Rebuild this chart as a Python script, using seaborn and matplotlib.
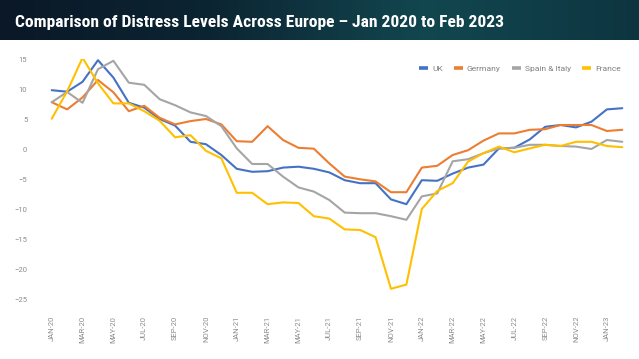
import numpy as np
import pandas as pd
import matplotlib
matplotlib.use("Agg")
import matplotlib.pyplot as plt
import seaborn as sns
from matplotlib import font_manager
from matplotlib.colors import LinearSegmentedColormap

months = ["JAN-20", "FEB-20", "MAR-20", "APR-20", "MAY-20", "JUN-20", "JUL-20", "AUG-20",
          "SEP-20", "OCT-20", "NOV-20", "DEC-20", "JAN-21", "FEB-21", "MAR-21", "APR-21",
          "MAY-21", "JUN-21", "JUL-21", "AUG-21", "SEP-21", "OCT-21", "NOV-21", "DEC-21",
          "JAN-22", "FEB-22", "MAR-22", "APR-22", "MAY-22", "JUN-22", "JUL-22", "AUG-22",
          "SEP-22", "OCT-22", "NOV-22", "DEC-22", "JAN-23", "FEB-23"]

uk = [9.8, 9.55, 11.2, 14.8, 11.9, 7.7, 6.9, 5.0, 3.9, 1.2, 0.8, -1.0, -3.3, -3.8, -3.7,
      -3.1, -2.95, -3.3, -3.9, -5.2, -5.7, -5.7, -8.4, -9.2, -5.2, -5.3, -4.1, -3.1, -2.6,
      0.1, 0.2, 1.6, 3.7, 4.0, 3.6, 4.55, 6.6, 6.8]
germany = [7.8, 6.6, 8.6, 11.5, 9.45, 6.3, 7.2, 5.2, 4.1, 4.65, 5.0, 4.1, 1.3, 1.2, 3.8,
           1.5, 0.2, 0.05, -2.4, -4.6, -5.05, -5.4, -7.2, -7.2, -3.1, -2.8, -1.0, -0.2, 1.4,
           2.6, 2.6, 3.2, 3.3, 4.0, 4.0, 4.0, 3.0, 3.2]
spain_italy = [7.8, 9.5, 7.7, 13.3, 14.7, 11.05, 10.7, 8.3, 7.3, 6.1, 5.5, 3.8, 0.1, -2.5,
               -2.5, -4.6, -6.4, -7.1, -8.5, -10.6, -10.7, -10.7, -11.2, -11.8, -7.9, -7.4,
               -2.05, -1.7, -0.7, 0.1, 0.2, 0.7, 0.7, 0.5, 0.4, 0.0, 1.5, 1.2]
france = [5.05, 9.6, 15.2, 10.95, 7.6, 7.6, 6.3, 4.7, 1.95, 2.3, -0.3, -1.55, -7.3, -7.3,
          -9.2, -8.9, -9.0, -11.2, -11.6, -13.4, -13.5, -14.7, -23.3, -22.6, -10.0, -7.0,
          -5.7, -2.1, -0.7, 0.4, -0.55, 0.1, 0.7, 0.5, 1.2, 1.2, 0.5, 0.3]

series = {"UK": uk, "Germany": germany, "Spain & Italy": spain_italy, "France": france}
colors = {"UK": "#4472C4", "Germany": "#ED7D31", "Spain & Italy": "#A5A5A5", "France": "#FFC000"}

df = pd.DataFrame(series)
df["idx"] = np.arange(len(months))
long = df.melt(id_vars="idx", var_name="country", value_name="level")

sns.set_style("white")
plt.rcParams["font.family"] = ["Roboto", "DejaVu Sans"]

# a condensed face for the banner title if one is around
have = {f.name for f in font_manager.fontManager.ttflist}
title_font = "Roboto"
for name in ["Roboto Condensed", "Barlow Semi Condensed", "Barlow Condensed",
             "Archivo Narrow", "PT Sans Narrow", "Liberation Sans Narrow"]:
    if name in have:
        title_font = name
        break

fig = plt.figure(figsize=(6.39, 3.59), dpi=100)

# title banner
bax = fig.add_axes([0, 1 - 40 / 359, 1, 40 / 359])
grad = np.linspace(0, 1, 256).reshape(1, -1)
cmap = LinearSegmentedColormap.from_list("banner", ["#0a1827", "#0c2533", "#12474f", "#0d3540"])
bax.imshow(grad, aspect="auto", cmap=cmap, extent=[0, 1, 0, 1])
bax.set_axis_off()
title = bax.text(0.024, 0.45, "Comparison of Distress Levels Across Europe \u2013 Jan 2020 to Feb 2023",
                 color="white", fontsize=14.5, fontweight="bold", va="center", ha="left",
                 family=[title_font, "DejaVu Sans"])
fig.canvas.draw()
w = title.get_window_extent().width
if w > 490:
    title.set_fontsize(14.5 * 490 / w)

ax = fig.add_axes([44 / 639, 1 - 299 / 359, 586 / 639, 240 / 359])
sns.lineplot(data=long, x="idx", y="level", hue="country", palette=colors, linewidth=1.5, ax=ax)

ax.set_xlim(-0.5, len(months) - 0.5)
ax.set_ylim(-25, 15)
ax.set_yticks(range(-25, 16, 5))
ax.set_xticks(range(0, len(months), 2))
ax.set_xticklabels(months[::2], rotation=90)
ax.tick_params(axis="both", length=0, labelsize=5.5, labelcolor="#8c8c8c")
ax.tick_params(axis="y", pad=12)
ax.tick_params(axis="x", pad=12)
ax.set_xlabel("")
ax.set_ylabel("")
for s in ax.spines.values():
    s.set_visible(False)

leg = ax.legend(loc="center right", bbox_to_anchor=(0.99, 0.96), ncol=4, frameon=False,
                fontsize=6, handlelength=1.1, handleheight=0.6, columnspacing=1.3,
                handletextpad=0.5, borderaxespad=0)
for line in leg.get_lines():
    line.set_linewidth(2.6)
    line.set_solid_capstyle("butt")
for t in leg.get_texts():
    t.set_color("#7f7f7f")

fig.savefig("out.png", dpi=100)
